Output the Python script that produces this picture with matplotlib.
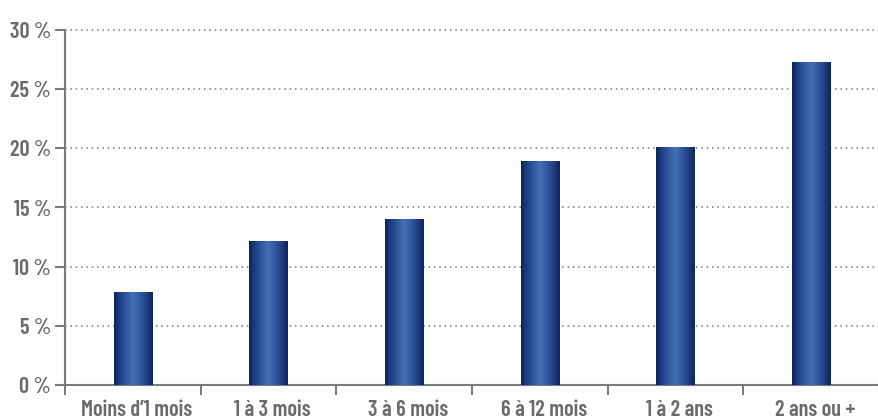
import numpy as np
import matplotlib
matplotlib.use("Agg")
import matplotlib.pyplot as plt
from matplotlib.colors import LinearSegmentedColormap

categories = ["Moins d\u20191 mois", "1 à 3 mois", "3 à 6 mois", "6 à 12 mois", "1 à 2 ans", "2 ans ou +"]
values = [7.9, 12.2, 14.0, 18.9, 20.1, 27.3]
yticks = [0, 5, 10, 15, 20, 25, 30]
ylabels = ["0 %", "5 %", "10 %", "15 %", "20 %", "25 %", "30 %"]

plt.rcParams['font.family'] = ['Barlow Condensed', 'DejaVu Sans']
txt_col = "#6b6b6b"
axis_col = "#7a7a7a"

fig = plt.figure(figsize=(8.79, 4.19), dpi=100)
ax = fig.add_axes([65/879, 1 - 385/419, 814/879, 355/419])

x = np.arange(len(categories))
bars = ax.bar(x, values, width=0.285, color="#1d3f80", zorder=3)

# horizontal gradient on each bar
cmap = LinearSegmentedColormap.from_list("bar", ["#0a2460", "#2b4f95", "#4470b5", "#2a4d92", "#0b2562"])
grad = np.linspace(0, 1, 256).reshape(1, -1)
for b in bars:
    x0, w, h = b.get_x(), b.get_width(), b.get_height()
    im = ax.imshow(grad, cmap=cmap, aspect="auto", extent=(x0, x0 + w, 0, h), zorder=4)
    im.set_clip_path(b)

ax.set_xlim(-0.5, -0.5 + 814/137)
ax.set_ylim(0, 30)
ax.set_yticks(yticks)
ax.set_yticklabels(ylabels)
ax.set_xticks(np.arange(len(categories) + 1) - 0.5, minor=False)
ax.set_xticklabels([])
ax.set_xticks(x + 0.03, minor=True)
ax.set_xticklabels(categories, minor=True)
ax.tick_params(axis="x", which="minor", length=0, pad=11)
ax.tick_params(axis="x", which="major", length=7, width=1.5, color=axis_col, direction="out")
ax.tick_params(axis="y", length=7, width=1.5, color=axis_col, pad=3)
for lab in ax.get_xticklabels(minor=True) + ax.get_yticklabels():
    lab.set_fontsize(16)
    lab.set_color(txt_col)
    lab.set_fontweight(600)

ax.grid(axis="y", linestyle=(0, (1, 2.5)), color="#777777", linewidth=1.1, zorder=0)
for gl in ax.get_ygridlines():
    gl.set_clip_on(False)
ax.set_axisbelow(True)
for s in ["top", "right"]:
    ax.spines[s].set_visible(False)
for s in ["left", "bottom"]:
    ax.spines[s].set_color(axis_col)
    ax.spines[s].set_linewidth(1.5)

fig.savefig("out.png", dpi=100)
